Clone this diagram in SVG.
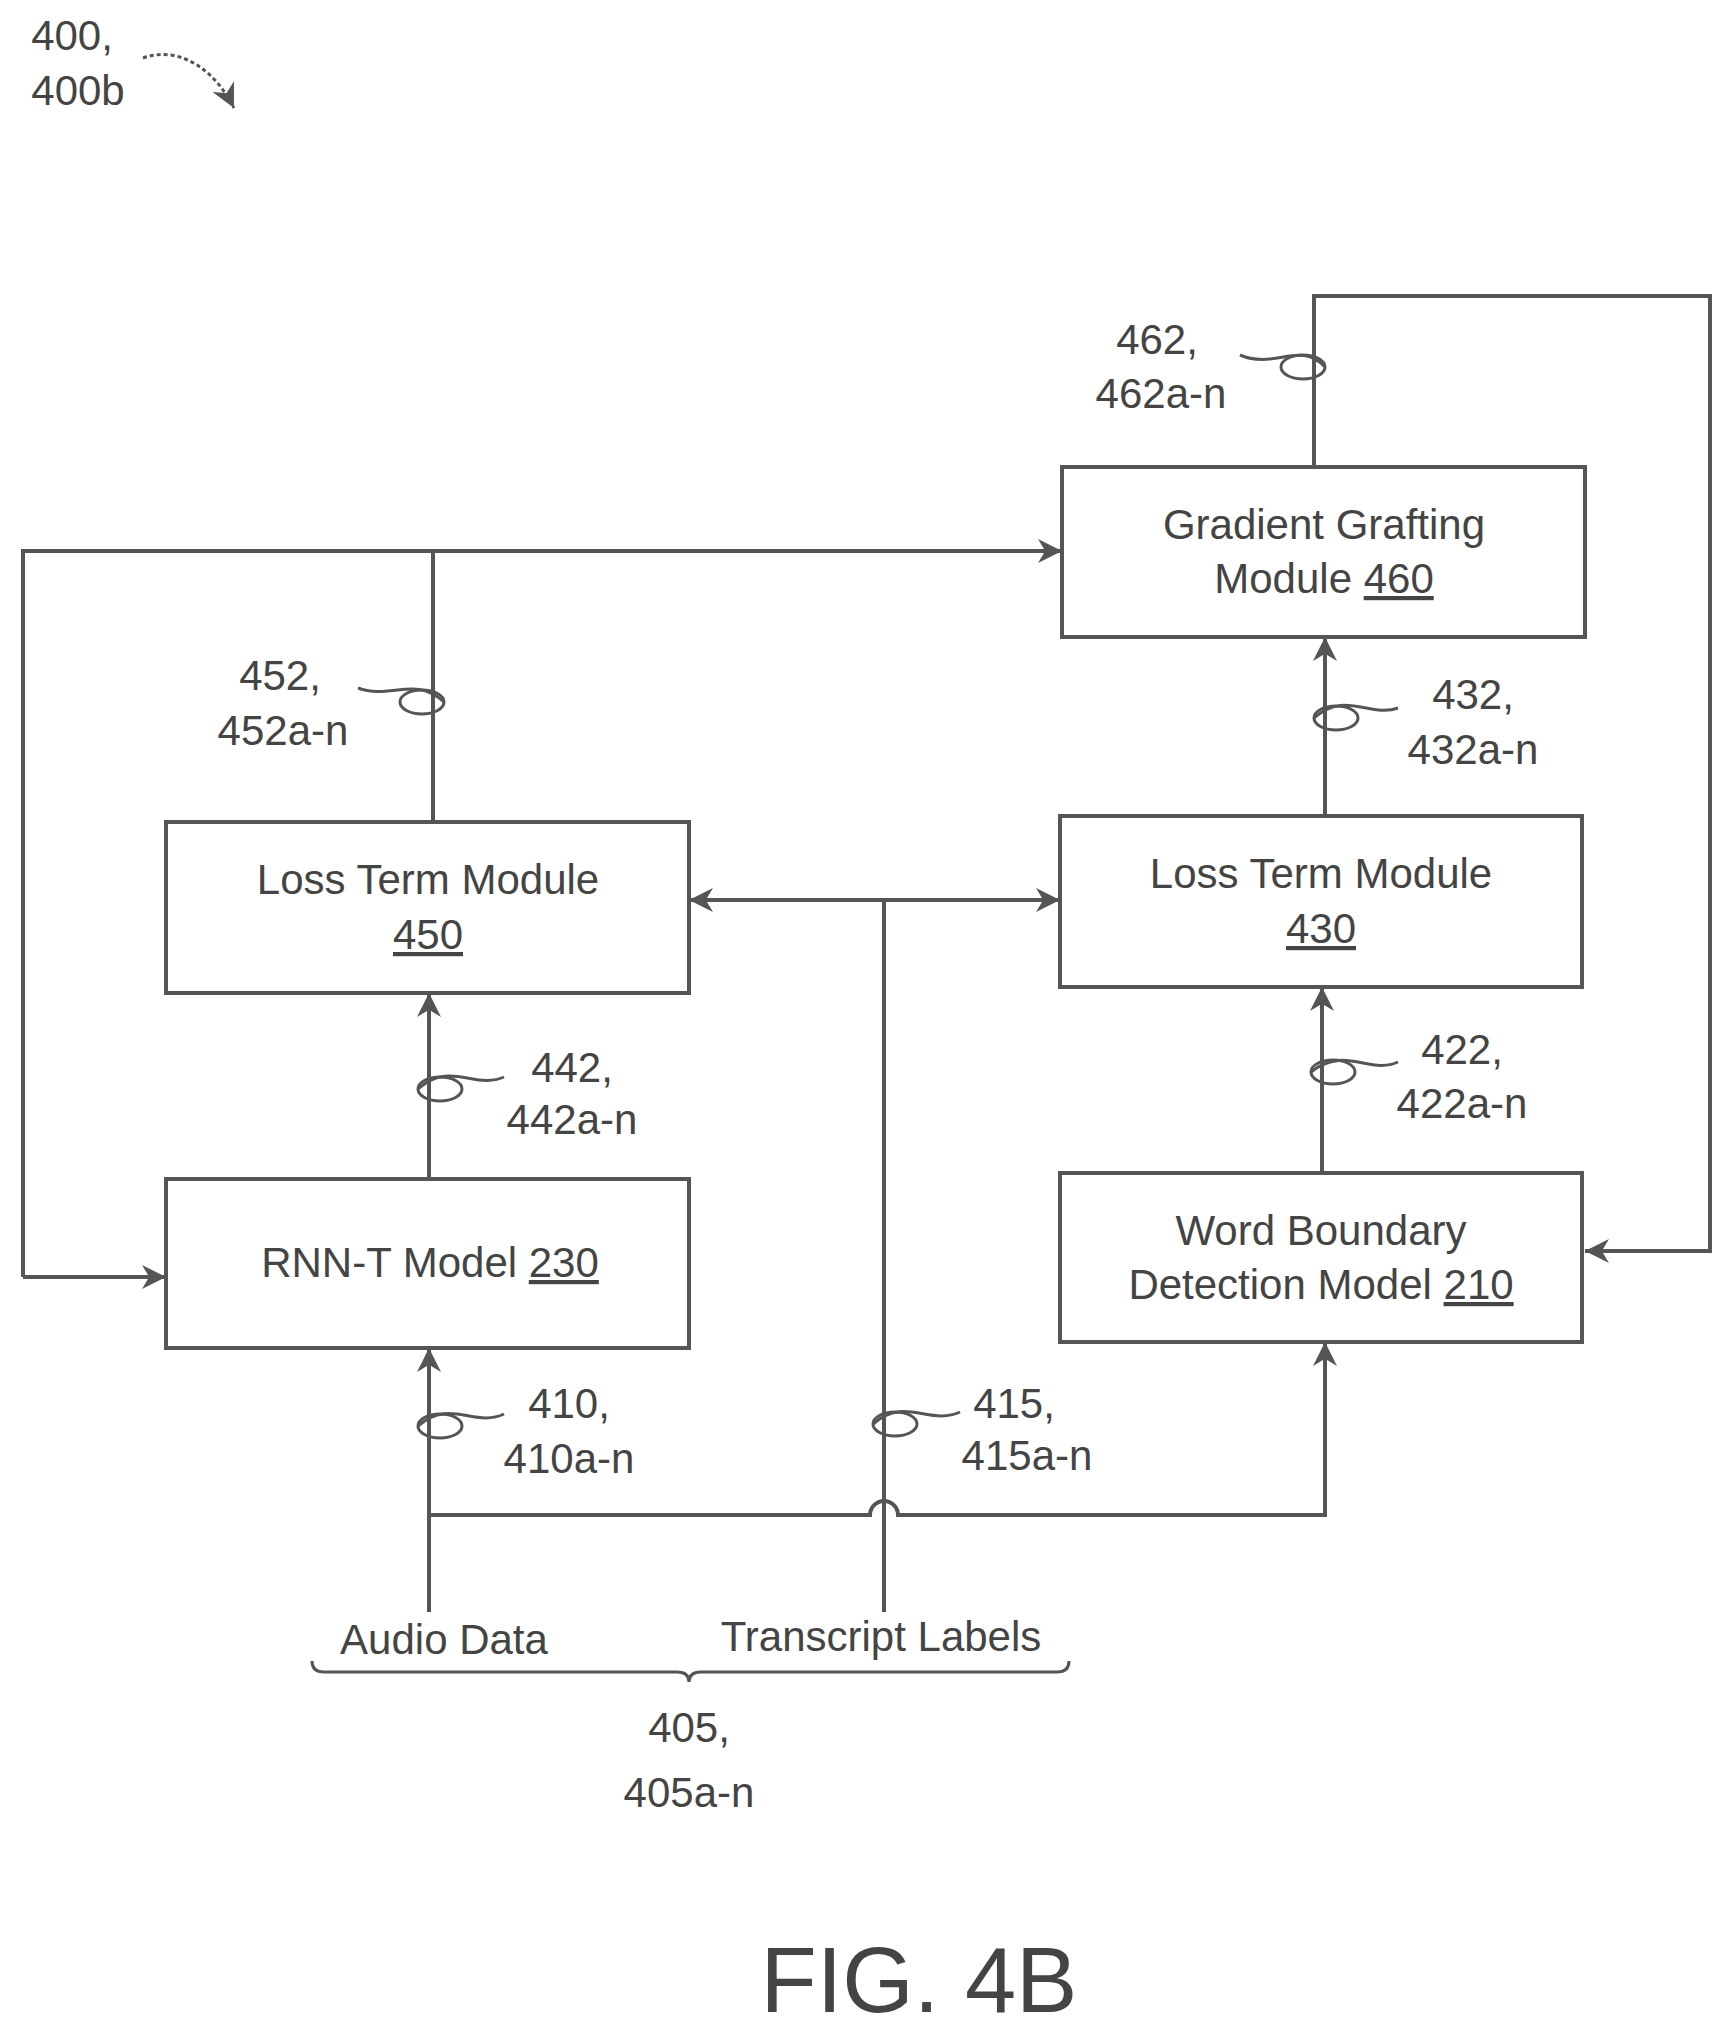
<svg xmlns="http://www.w3.org/2000/svg" width="1735" height="2040" viewBox="0 0 1735 2040">
<style>
.b{fill:#fff;stroke:#555;stroke-width:4}
.l{fill:none;stroke:#555;stroke-width:4}
.s{fill:none;stroke:#555;stroke-width:3}
text{font-family:"Liberation Sans",Arial,sans-serif;font-size:42px;fill:#444;text-anchor:middle}
</style>
<defs>
<marker id="A" viewBox="0 0 10 10" refX="10" refY="5" markerWidth="30" markerHeight="24" orient="auto-start-reverse" markerUnits="userSpaceOnUse"><path d="M0,0 L10,5 L0,10 L3,5 z" fill="#555"/></marker>
</defs>
<text x="72" y="50">400,</text>
<text x="78" y="105">400b</text>
<path class="s" d="M143,58 C180,45 215,70 234,108" stroke-dasharray="4,3" marker-end="url(#A)"/>
<g id="connectors">
<path class="l" d="M433,822 V551"/>
<path class="l" d="M23,1277 V551 H1062" marker-end="url(#A)"/>
<path class="l" d="M23,1277 H166" marker-end="url(#A)"/>
<path class="l" d="M1314,467 V296 H1710 V1251 H1585" marker-end="url(#A)"/>
<path class="l" d="M1325,816 V637" marker-end="url(#A)"/>
<path class="l" d="M1322,1173 V987" marker-end="url(#A)"/>
<path class="l" d="M429,1179 V993" marker-end="url(#A)"/>
<path class="l" d="M429,1612 V1348" marker-end="url(#A)"/>
<path class="l" d="M429,1515 H870 A14,14 0 0 1 898,1515 H1325 V1342" marker-end="url(#A)"/>
<path class="l" d="M884,1612 V900"/>
<path class="l" d="M884,900 H689" marker-end="url(#A)"/>
<path class="l" d="M884,900 H1060" marker-end="url(#A)"/>
<path class="s" d="M312,1661 Q312,1672 324,1672 H677 Q689,1672 689,1682 Q689,1672 701,1672 H1057 Q1069,1672 1069,1661"/>
<g class="s">
<ellipse cx="1303" cy="367" rx="22" ry="12"/><path d="M1325,367 C1300,340 1275,370 1240,355"/>
<ellipse cx="422" cy="702" rx="22" ry="12"/><path d="M444,702 C415,675 390,700 358,688"/>
<ellipse cx="1336" cy="718" rx="22" ry="12"/><path d="M1314,718 C1345,690 1370,718 1398,708"/>
<ellipse cx="440" cy="1089" rx="22" ry="12"/><path d="M418,1089 C450,1060 475,1090 504,1077"/>
<ellipse cx="1333" cy="1072" rx="22" ry="12"/><path d="M1311,1072 C1345,1045 1370,1075 1398,1062"/>
<ellipse cx="440" cy="1426" rx="22" ry="12"/><path d="M418,1426 C450,1398 475,1428 504,1414"/>
<ellipse cx="895" cy="1424" rx="22" ry="12"/><path d="M873,1424 C905,1396 930,1426 960,1412"/>
</g>
</g>
<g id="n460"><rect class="b" x="1062" y="467" width="523" height="170"/><text x="1324" y="539">Gradient Grafting</text><text x="1324" y="593">Module  <tspan text-decoration="underline">460</tspan></text></g>
<g id="n450"><rect class="b" x="166" y="822" width="523" height="171"/><text x="428" y="894">Loss Term Module</text><text x="428" y="949" text-decoration="underline">450</text></g>
<g id="n430"><rect class="b" x="1060" y="816" width="522" height="171"/><text x="1321" y="888">Loss Term Module</text><text x="1321" y="943" text-decoration="underline">430</text></g>
<g id="n230"><rect class="b" x="166" y="1179" width="523" height="169"/><text x="430" y="1277">RNN-T Model <tspan text-decoration="underline">230</tspan></text></g>
<g id="n210"><rect class="b" x="1060" y="1173" width="522" height="169"/><text x="1321" y="1245">Word Boundary</text><text x="1321" y="1299">Detection Model <tspan text-decoration="underline">210</tspan></text></g>
<text x="1157" y="354">462,</text><text x="1161" y="408">462a-n</text>
<text x="280" y="690">452,</text><text x="283" y="745">452a-n</text>
<text x="1473" y="709">432,</text><text x="1473" y="764">432a-n</text>
<text x="572" y="1082">442,</text><text x="572" y="1134">442a-n</text>
<text x="1462" y="1064">422,</text><text x="1462" y="1118">422a-n</text>
<text x="569" y="1418">410,</text><text x="569" y="1473">410a-n</text>
<text x="1014" y="1418">415,</text><text x="1027" y="1470">415a-n</text>
<text x="444" y="1654">Audio Data</text>
<text x="881" y="1651">Transcript Labels</text>
<text x="689" y="1742">405,</text><text x="689" y="1807">405a-n</text>
<text x="919" y="2012" style="font-size:92px">FIG. 4B</text>
</svg>
